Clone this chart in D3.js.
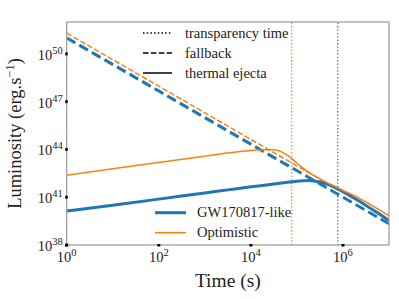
<!DOCTYPE html>
<html>
<head>
<meta charset="utf-8">
<script src="https://cdn.jsdelivr.net/npm/d3@7"></script>
<style>
  body { margin: 0; background: #fff; }
  svg { font-family: "Liberation Serif", "DejaVu Serif", serif; }
</style>
</head>
<body>
<svg id="chart" width="399" height="299"></svg>
<script>
// values are log10 of time (s) and log10 of luminosity (erg/s)
const logTime = [0, 1, 2, 3, 3.5, 4, 4.25, 4.5, 4.75, 5, 5.25, 5.5, 5.75, 6, 6.25, 6.5, 6.75, 7]
const gwThermal = [40.13, 40.5, 40.88, 41.27, 41.46, 41.65, 41.74, 41.83, 41.92, 42.0, 42.05, 41.95, 41.72, 41.35, 40.93, 40.48, 40.02, 39.53]
const optThermal = [42.38, 42.78, 43.18, 43.58, 43.78, 43.93, 43.98, 43.98, 43.72, 43.15, 42.57, 42.15, 41.77, 41.42, 41.1, 40.7, 40.27, 39.84]

const fallbackTime = [0, 2, 4, 6, 7]
const gwFallback = [51.0, 47.67, 44.33, 41.0, 39.33]
const optFallback = [51.3, 47.97, 44.63, 41.3, 39.63]

const transparency = { gw: 7.7e5, opt: 7.7e4 }

const xTicks = [1e0, 1e2, 1e4, 1e6]
const yTicks = [1e38, 1e41, 1e44, 1e47, 1e50]

const blue = '#1f77b4'
const orange = '#ff7f0e'

const margin = { left: 66.7, right: 10, top: 22, bottom: 54 }
const width = 399
const height = 299

const x = d3.scaleLog().domain([1, 1e7]).range([margin.left, width - margin.right])
const y = d3.scaleLog().domain([1e38, 1e52]).range([height - margin.bottom, margin.top])

const svg = d3.select('#chart')

svg.append('clipPath').attr('id', 'clip')
  .append('rect')
  .attr('x', x.range()[0])
  .attr('y', y.range()[1])
  .attr('width', x.range()[1] - x.range()[0])
  .attr('height', y.range()[0] - y.range()[1])

const plot = svg.append('g').attr('clip-path', 'url(#clip)')

const line = d3.line()
  .x(d => x(Math.pow(10, d[0])))
  .y(d => y(Math.pow(10, d[1])))
  .curve(d3.curveMonotoneX)

const pairs = (ts, ls) => ts.map((t, i) => [t, ls[i]])

// transparency times
const vlines = [
  { t: transparency.opt, color: orange },
  { t: transparency.gw, color: blue },
]
plot.selectAll('line.transp')
  .data(vlines)
  .enter()
  .append('line')
  .attr('class', 'transp')
  .attr('x1', d => x(d.t))
  .attr('x2', d => x(d.t))
  .attr('y1', y.range()[0])
  .attr('y2', y.range()[1])
  .attr('stroke', d => d.color)
  .attr('stroke-width', 1.3)
  .attr('stroke-dasharray', '1.3,2.1')

const series = [
  { data: pairs(fallbackTime, gwFallback), color: blue, w: 3, dash: '10,4.5' },
  { data: pairs(fallbackTime, optFallback), color: orange, w: 1.5, dash: '5.5,2.4' },
  { data: pairs(logTime, gwThermal), color: blue, w: 3, dash: null },
  { data: pairs(logTime, optThermal), color: orange, w: 1.5, dash: null },
]

plot.selectAll('path.curve')
  .data(series)
  .enter()
  .append('path')
  .attr('class', 'curve')
  .attr('fill', 'none')
  .attr('stroke', d => d.color)
  .attr('stroke-width', d => d.w)
  .attr('stroke-dasharray', d => d.dash)
  .attr('d', d => line(d.data))

// frame
svg.append('rect')
  .attr('x', x.range()[0])
  .attr('y', y.range()[1])
  .attr('width', x.range()[1] - x.range()[0])
  .attr('height', y.range()[0] - y.range()[1])
  .attr('fill', 'none')
  .attr('stroke', '#a0a0a0')
  .attr('stroke-width', 1.3)

const expOf = v => Math.round(Math.log10(v))

// x ticks
const xg = svg.append('g')
xg.selectAll('line')
  .data(xTicks)
  .enter()
  .append('line')
  .attr('x1', d => x(d))
  .attr('x2', d => x(d))
  .attr('y1', y.range()[0] - 1)
  .attr('y2', y.range()[0] + 1.5)
  .attr('stroke', '#000')
  .attr('stroke-width', 3)
const xt = xg.selectAll('text')
  .data(xTicks)
  .enter()
  .append('text')
  .attr('x', d => x(d))
  .attr('y', y.range()[0] + 17)
  .attr('text-anchor', 'middle')
  .attr('font-size', 14.5)
  .attr('fill', '#222')
xt.append('tspan').text('10')
xt.append('tspan').attr('dy', -6).attr('font-size', 10.5).text(d => expOf(d))

// y ticks
const yg = svg.append('g')
yg.selectAll('line')
  .data(yTicks)
  .enter()
  .append('line')
  .attr('x1', x.range()[0] - 1.5)
  .attr('x2', x.range()[0] + 1)
  .attr('y1', d => y(d))
  .attr('y2', d => y(d))
  .attr('stroke', '#000')
  .attr('stroke-width', 3)
const yt = yg.selectAll('text')
  .data(yTicks)
  .enter()
  .append('text')
  .attr('x', x.range()[0] - 4)
  .attr('y', d => y(d) + 6)
  .attr('text-anchor', 'end')
  .attr('font-size', 14.5)
  .attr('fill', '#222')
yt.append('tspan').text('10')
yt.append('tspan').attr('dy', -6).attr('font-size', 10.5).text(d => expOf(d))

// axis labels
svg.append('text')
  .attr('x', (x.range()[0] + x.range()[1]) / 2)
  .attr('y', 287)
  .attr('text-anchor', 'middle')
  .attr('font-size', 19.5)
  .attr('fill', '#222')
  .text('Time (s)')

const yl = svg.append('text')
  .attr('transform', `translate(21,${(y.range()[0] + y.range()[1]) / 2}) rotate(-90)`)
  .attr('text-anchor', 'middle')
  .attr('font-size', 18.5)
  .attr('fill', '#222')
yl.append('tspan').text('Luminosity (erg.s')
yl.append('tspan').attr('dy', -7).attr('font-size', 12.5).text('−1')
yl.append('tspan').attr('dy', 7).text(')')

// legend of line styles
const styleLegend = [
  { label: 'transparency time', dash: '1.5,2.2' },
  { label: 'fallback', dash: '5.5,2.4' },
  { label: 'thermal ejecta', dash: null },
]
const sl = svg.append('g').selectAll('g')
  .data(styleLegend)
  .enter()
  .append('g')
  .attr('transform', (d, i) => `translate(143,${33 + i * 20})`)
sl.append('line')
  .attr('x1', 0).attr('x2', 29)
  .attr('stroke', '#000')
  .attr('stroke-width', 1.5)
  .attr('stroke-dasharray', d => d.dash)
sl.append('text')
  .attr('x', 42)
  .attr('y', 4.5)
  .attr('font-size', 14.5)
  .attr('fill', '#222')
  .text(d => d.label)

// legend of scenarios
const scenarioLegend = [
  { label: 'GW170817-like', color: blue, w: 3 },
  { label: 'Optimistic', color: orange, w: 1.5 },
]
const cl = svg.append('g').selectAll('g')
  .data(scenarioLegend)
  .enter()
  .append('g')
  .attr('transform', (d, i) => `translate(155,${212.7 + i * 20})`)
cl.append('line')
  .attr('x1', 0).attr('x2', 31)
  .attr('stroke', d => d.color)
  .attr('stroke-width', d => d.w)
cl.append('text')
  .attr('x', 42)
  .attr('y', 4.5)
  .attr('font-size', 14.5)
  .attr('fill', '#222')
  .text(d => d.label)
</script>
</body>
</html>
